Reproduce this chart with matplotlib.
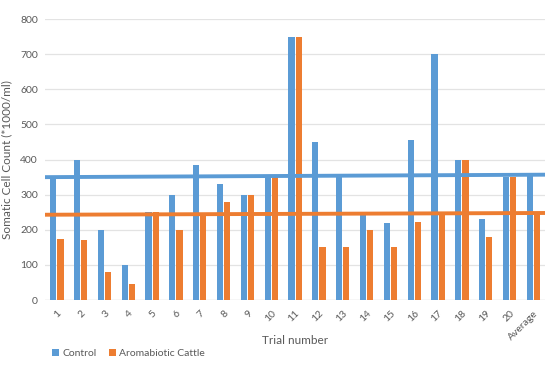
import matplotlib.pyplot as plt
import numpy as np

plt.rcParams['font.family'] = ['Lato', 'DejaVu Sans']

categories = [str(i) for i in range(1, 21)] + ['Average']
control = [350, 400, 200, 100, 250, 300, 385, 330, 300, 350,
           750, 450, 350, 245, 220, 455, 700, 400, 232, 350, 355]
aromabiotic = [175, 170, 80, 45, 250, 200, 245, 280, 300, 350,
               750, 150, 150, 200, 150, 222, 245, 400, 180, 350, 245]
# average lines (left end, right end)
control_avg = [350, 357]
aromabiotic_avg = [243, 248]

blue = '#5B9BD5'
orange = '#ED7D31'
grey = '#595959'

fig = plt.figure(figsize=(5.48, 3.66), dpi=100)
ax = fig.add_axes([0.082, 0.18, 0.913, 0.768])

x = np.arange(len(categories))
w = 0.26
ax.bar(x - w/2 - 0.02, control, width=w, color=blue, label='Control', zorder=2)
ax.bar(x + w/2 + 0.02, aromabiotic, width=w, color=orange, label='Aromabiotic Cattle', zorder=2)

xl = [-0.5, len(categories) - 0.5]
ax.plot(xl, control_avg, color=blue, lw=2.8, zorder=3, solid_capstyle='butt')
ax.plot(xl, aromabiotic_avg, color=orange, lw=2.8, zorder=3, solid_capstyle='butt')

ax.set_xlim(xl)
ax.set_ylim(0, 800)
ax.set_yticks(range(0, 801, 100))
ax.yaxis.grid(True, color='#E3E3E3', lw=0.9, zorder=0)
ax.set_axisbelow(True)
for s in ax.spines.values():
    s.set_visible(False)
ax.axhline(0, color='#D9D9D9', lw=0.9, zorder=1)

ax.set_xticks(x)
ax.set_xticklabels(categories, rotation=45, ha='right', rotation_mode='anchor')
ax.tick_params(axis='both', length=0, labelsize=7.5, labelcolor=grey)
ax.tick_params(axis='x', pad=6)
ax.tick_params(axis='y', pad=5)

ax.set_xlabel('Trial number', fontsize=8.5, color=grey, labelpad=-5)
ax.set_ylabel('Somatic Cell Count (*1000/ml)', fontsize=8.5, color=grey, labelpad=6)

ax.legend(loc='lower left', bbox_to_anchor=(0.005, -0.222), ncol=2, frameon=False,
          fontsize=7.5, labelcolor=grey, handlelength=0.7, handleheight=0.7,
          handletextpad=0.3, columnspacing=1.2, borderaxespad=0)

fig.savefig('out.png', dpi=100)
